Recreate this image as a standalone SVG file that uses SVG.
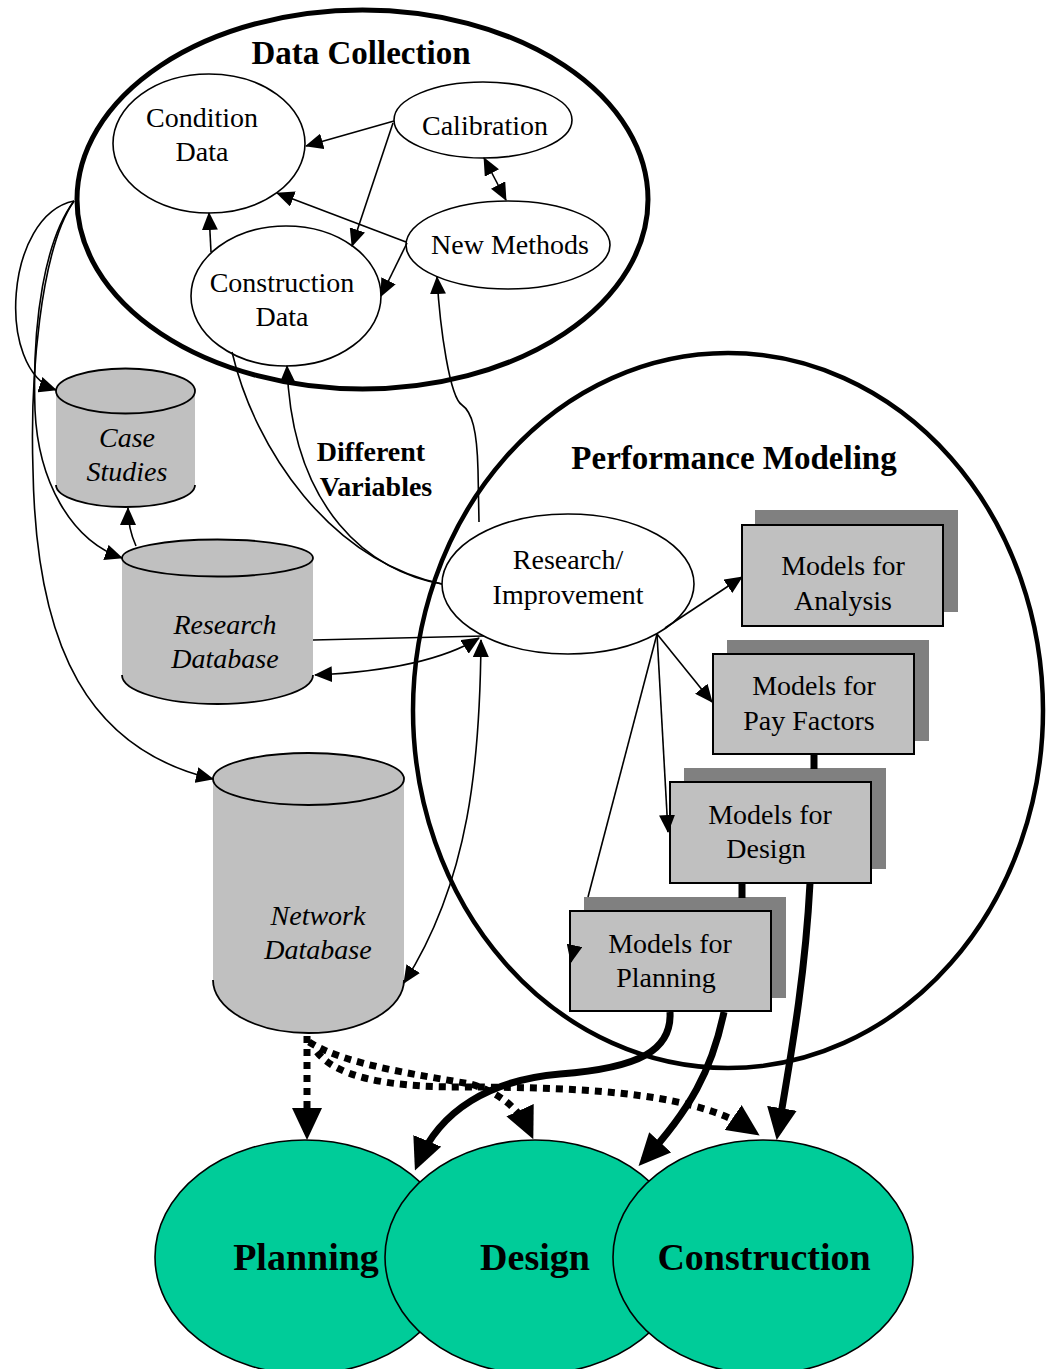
<svg xmlns="http://www.w3.org/2000/svg" width="1046" height="1369" viewBox="0 0 1046 1369">
<style>
text{font-family:"Liberation Serif","Times New Roman",serif;fill:#000;text-anchor:middle}
.t{font-size:28px}
.i{font-size:28px;font-style:italic}
.b{font-size:28px;font-weight:bold}
.h{font-size:33px;font-weight:bold}
.big{font-size:38px;font-weight:bold}
.node{fill:#fff;stroke:#000;stroke-width:1.6}
.cont{fill:none;stroke:#000;stroke-width:5}
.box{fill:#c0c0c0;stroke:#000;stroke-width:2}
.shadow{fill:#808080}
.cylbody{fill:#c0c0c0;stroke:none}
.cylline{fill:none;stroke:#000;stroke-width:1.8}
.cyltop{fill:#c0c0c0;stroke:#000;stroke-width:1.8}
.goal{fill:#00cc99;stroke:#000;stroke-width:1.6}
.ln{fill:none;stroke:#000;stroke-width:1.6}
.thin{marker-end:url(#a)}
.both{marker-start:url(#a);marker-end:url(#a)}
.thick{fill:none;stroke:#000;stroke-width:7}
.dot{fill:none;stroke:#000;stroke-width:7;stroke-dasharray:7 6}
.big-arrow{marker-end:url(#A)}
</style>
<defs>
<marker id="a" markerUnits="userSpaceOnUse" viewBox="0 0 18 16" markerWidth="18" markerHeight="16" refX="17" refY="8" orient="auto-start-reverse"><path d="M0,0 L18,8 L0,16 z" fill="#000" stroke="none"/></marker>
<marker id="A" markerUnits="userSpaceOnUse" viewBox="0 0 32 30" markerWidth="32" markerHeight="30" refX="24" refY="15" orient="auto"><path d="M0,0 L32,15 L0,30 z" fill="#000" stroke="none"/></marker>
</defs>
<rect width="1046" height="1369" fill="#fff"/>

<g id="data-collection">
<ellipse class="cont" cx="362.5" cy="199.5" rx="285.5" ry="189.5"/>
<text class="h" x="361" y="64">Data Collection</text>
</g>
<g id="performance-modeling">
<ellipse class="cont" cx="728" cy="710.5" rx="315" ry="357.5" style="stroke-width:4.5"/>
<text class="h" x="734" y="469">Performance Modeling</text>
</g>

<g id="condition-data">
<ellipse class="node" cx="209" cy="143.5" rx="96" ry="69.5"/>
<text class="t" x="202" y="127">Condition</text>
<text class="t" x="202" y="161">Data</text>
</g>
<g id="calibration">
<ellipse class="node" cx="483" cy="120" rx="89" ry="38"/>
<text class="t" x="485" y="135">Calibration</text>
</g>
<g id="new-methods">
<ellipse class="node" cx="508" cy="245" rx="102" ry="44"/>
<text class="t" x="510" y="254">New Methods</text>
</g>
<g id="construction-data">
<ellipse class="node" cx="286" cy="296" rx="95" ry="70"/>
<text class="t" x="282" y="292">Construction</text>
<text class="t" x="282" y="326">Data</text>
</g>

<g id="case-studies">
<path class="cylbody" d="M56,391 L56,485 A69.5,22 0 0 0 195,485 L195,391 z"/>
<path class="cylline" d="M56,485 A69.5,22 0 0 0 195,485"/>
<ellipse class="cyltop" cx="125.5" cy="391" rx="69.5" ry="22.5"/>
<text class="i" x="127" y="447">Case</text>
<text class="i" x="127" y="481">Studies</text>
</g>
<g id="research-database">
<path class="cylbody" d="M122,558 L122,675 A95.5,29 0 0 0 313,675 L313,558 z"/>
<path class="cylline" d="M122,675 A95.5,29 0 0 0 313,675"/>
<ellipse class="cyltop" cx="217.5" cy="558" rx="95.5" ry="18.5"/>
<text class="i" x="225" y="634">Research</text>
<text class="i" x="225" y="668">Database</text>
</g>
<g id="network-database">
<path class="cylbody" d="M213,779 L213,980 A95.5,53 0 0 0 404,980 L404,779 z"/>
<path class="cylline" d="M213,980 A95.5,53 0 0 0 404,980"/>
<ellipse class="cyltop" cx="308.5" cy="779" rx="95.5" ry="26"/>
<text class="i" x="318" y="925">Network</text>
<text class="i" x="318" y="959">Database</text>
</g>

<g id="research-improvement">
<ellipse class="node" cx="568" cy="584" rx="126" ry="70"/>
<text class="t" x="568" y="569">Research/</text>
<text class="t" x="568" y="604">Improvement</text>
</g>

<g id="models-analysis">
<rect class="shadow" x="755" y="510" width="203" height="102"/>
<rect class="box" x="742" y="525" width="201" height="101"/>
<text class="t" x="843" y="575">Models for</text>
<text class="t" x="843" y="610">Analysis</text>
</g>
<g id="models-pay-factors">
<rect class="shadow" x="727" y="640" width="202" height="101"/>
<rect class="box" x="713" y="654" width="201" height="100"/>
<text class="t" x="814" y="695">Models for</text>
<text class="t" x="809" y="730">Pay Factors</text>
</g>
<g id="models-design">
<rect class="shadow" x="684" y="768" width="202" height="101"/>
<rect class="box" x="670" y="782" width="201" height="101"/>
<text class="t" x="770" y="824">Models for</text>
<text class="t" x="766" y="858">Design</text>
</g>
<g id="models-planning">
<rect class="shadow" x="584" y="897" width="202" height="101"/>
<rect class="box" x="570" y="911" width="201" height="100"/>
<text class="t" x="670" y="953">Models for</text>
<text class="t" x="666" y="987">Planning</text>
</g>

<g id="planning">
<ellipse class="goal" cx="305" cy="1257" rx="150" ry="117"/>
<text class="big" x="306" y="1270">Planning</text>
</g>
<g id="design">
<ellipse class="goal" cx="535" cy="1257" rx="150" ry="117"/>
<text class="big" x="535" y="1270">Design</text>
</g>
<g id="construction">
<ellipse class="goal" cx="763" cy="1257" rx="150" ry="117"/>
<text class="big" x="764" y="1270">Construction</text>
</g>

<g id="label-different-variables">
<text class="b" x="371" y="461">Different</text>
<text class="b" x="376" y="496">Variables</text>
</g>

<g id="connectors">
<path class="ln thin" d="M394,121 L306,146"/>
<path class="ln thin" d="M393,123 L352,246"/>
<path class="ln both" d="M484,158 L506,200"/>
<path class="ln thin" d="M406,242 L277,193"/>
<path class="ln thin" d="M407,243 L381,296"/>
<path class="ln thin" d="M211,252 L209,213"/>
<path class="ln thin" d="M479,522 L478,470 C477,430 472,412 462,405 C450,398 440,330 437,277"/>
<path class="ln thin" d="M442,584 C370,572 292,510 287,366"/>
<path class="ln" d="M232,352 C255,450 330,560 442,584"/>
<path class="ln thin" d="M74,201 C5,215 -5,370 56,390"/>
<path class="ln thin" d="M74,201 C45,240 32,320 35,410 C38,480 70,540 122,558"/>
<path class="ln thin" d="M74,201 C40,250 30,380 33,470 C36,650 90,750 213,779"/>
<path class="ln thin" d="M136,546 C131,535 128,525 128,508"/>
<path class="ln" d="M313,640 L484,636"/>
<path class="ln both" d="M315,675 C380,672 440,662 479,638"/>
<path class="ln both" d="M481,640 C480,760 470,880 404,983"/>
<path class="ln thin" d="M665,628 L742,577"/>
<path class="ln thin" d="M657,634 L712,702"/>
<path class="ln thin" d="M657,634 L668,832"/>
<path class="ln" d="M657,634 L588,897"/>
<path class="ln thin" d="M574,948 L571,962"/>
<path class="thick" d="M814,754 L814,769"/>
<path class="thick" d="M742,883 L742,898"/>
<path class="thick big-arrow" d="M670,1012 C672,1050 640,1068 560,1074 C490,1080 440,1110 418,1163"/>
<path class="thick big-arrow" d="M724,1012 C712,1070 690,1110 644,1160"/>
<path class="thick big-arrow" d="M810,883 C805,980 790,1060 778,1132"/>
<path class="dot big-arrow" d="M307,1036 L307,1132"/>
<path class="dot big-arrow" d="M309,1042 C345,1065 420,1075 470,1084 C500,1092 520,1110 530,1132"/>
<path class="dot big-arrow" d="M317,1052 C335,1075 380,1087 460,1087 C600,1087 700,1095 753,1131"/>
</g>
</svg>
